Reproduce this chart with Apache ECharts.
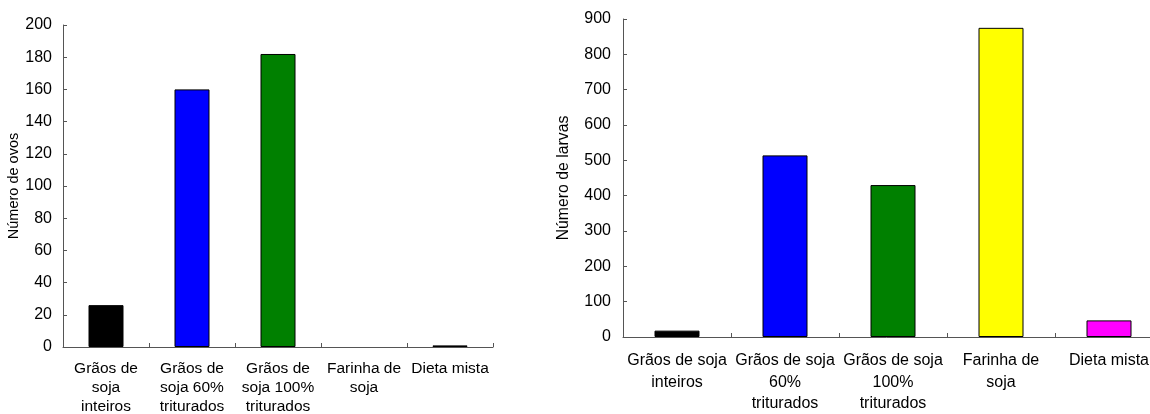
<!DOCTYPE html>
<html>
<head>
<meta charset="utf-8">
<script src="https://cdn.jsdelivr.net/npm/echarts@6/dist/echarts.min.js"></script>
<style>
html,body{margin:0;padding:0;background:#fff;}
#chart{width:1150px;height:414px;}
</style>
</head>
<body>
<div id="chart"></div>
<script>
const categoriesOvos = ['Grãos de\nsoja\ninteiros', 'Grãos de\nsoja 60%\ntriturados', 'Grãos de\nsoja 100%\ntriturados', 'Farinha de\nsoja', 'Dieta mista'];
const valuesOvos = [26, 160, 182, 0, 1];
const categoriesLarvas = ['Grãos de soja\ninteiros', 'Grãos de soja\n60%\ntriturados', 'Grãos de soja\n100%\ntriturados', 'Farinha de\nsoja', 'Dieta mista'];
const valuesLarvas = [18, 514, 430, 875, 47];
const barColors = ['#000000', '#0000FF', '#008000', '#FFFF00', '#FF00FF'];
const yTitleOvos = 'Número de ovos';
const yTitleLarvas = 'Número de larvas';

const FONT = 'Liberation Sans, Arial, sans-serif';
const axisLineStyle = { color: '#555', width: 1 };

function barData(values) {
  return values.map((v, i) => ({
    value: v,
    itemStyle: { color: barColors[i], borderWidth: v === 0 ? 0 : 1, borderColor: '#000' }
  }));
}

const chart = echarts.init(document.getElementById('chart'));
chart.setOption({
  animation: false,
  backgroundColor: '#fff',
  grid: [
    { left: 63, top: 25, right: 657, bottom: 67, containLabel: false, outerBoundsMode: 'none' },
    { left: 623, top: 19, right: -13, bottom: 77, containLabel: false, outerBoundsMode: 'none' }
  ],
  xAxis: [
    {
      type: 'category', gridIndex: 0, data: categoriesOvos,
      axisLine: { lineStyle: axisLineStyle },
      axisTick: { show: true, inside: true, length: 4, lineStyle: axisLineStyle },
      axisLabel: { interval: 0, color: '#000', fontFamily: FONT, fontSize: 15.5, lineHeight: 19, margin: 12 }
    },
    {
      type: 'category', gridIndex: 1, data: categoriesLarvas,
      axisLine: { lineStyle: axisLineStyle },
      axisTick: { show: true, inside: true, length: 4, lineStyle: axisLineStyle },
      axisLabel: { interval: 0, color: '#000', fontFamily: FONT, fontSize: 16, lineHeight: 21.5, margin: 13 }
    }
  ],
  yAxis: [
    {
      type: 'value', gridIndex: 0, min: 0, max: 200, interval: 20,
      name: yTitleOvos, nameLocation: 'middle', nameGap: 42,
      nameTextStyle: { color: '#000', fontFamily: FONT, fontSize: 14.5 },
      axisLine: { show: true, lineStyle: axisLineStyle },
      axisTick: { show: true, inside: true, length: 4, lineStyle: axisLineStyle },
      axisLabel: { color: '#000', fontFamily: FONT, fontSize: 16, margin: 11 },
      splitLine: { show: false }
    },
    {
      type: 'value', gridIndex: 1, min: 0, max: 900, interval: 100,
      name: yTitleLarvas, nameLocation: 'middle', nameGap: 51,
      nameTextStyle: { color: '#000', fontFamily: FONT, fontSize: 15.8 },
      axisLine: { show: true, lineStyle: axisLineStyle },
      axisTick: { show: true, inside: true, length: 4, lineStyle: axisLineStyle },
      axisLabel: { color: '#000', fontFamily: FONT, fontSize: 16, margin: 12 },
      splitLine: { show: false }
    }
  ],
  series: [
    { type: 'bar', xAxisIndex: 0, yAxisIndex: 0, barWidth: 35, data: barData(valuesOvos) },
    { type: 'bar', xAxisIndex: 1, yAxisIndex: 1, barWidth: 45, data: barData(valuesLarvas) }
  ]
});
</script>
</body>
</html>
